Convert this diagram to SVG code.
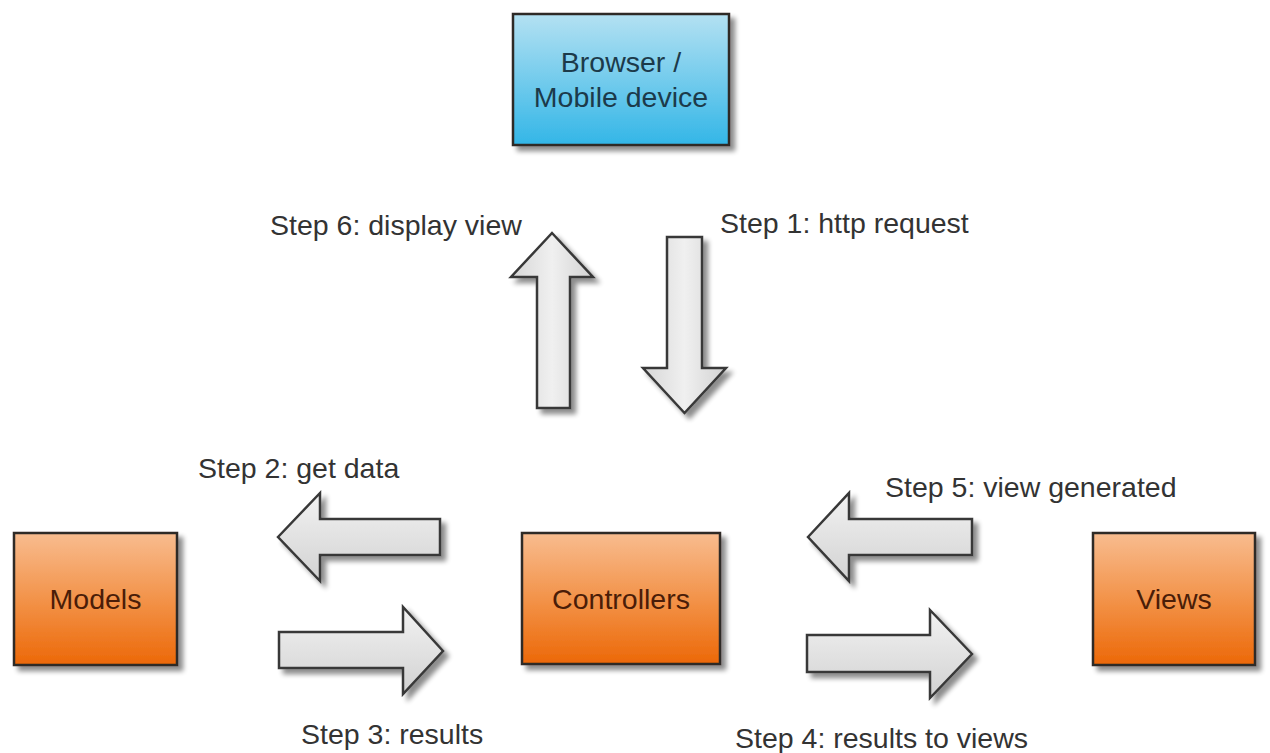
<svg xmlns="http://www.w3.org/2000/svg" width="1270" height="753" viewBox="0 0 1270 753">
  <defs>
    <linearGradient id="gOrange" x1="0" y1="0" x2="0" y2="1">
      <stop offset="0" stop-color="#f8bc8f"/>
      <stop offset="0.55" stop-color="#f28f43"/>
      <stop offset="1" stop-color="#ec6808"/>
    </linearGradient>
    <linearGradient id="gBlue" x1="0" y1="0" x2="0" y2="1">
      <stop offset="0" stop-color="#b4e1f2"/>
      <stop offset="1" stop-color="#33b6e7"/>
    </linearGradient>
    <linearGradient id="gArrowH" x1="0" y1="0" x2="0" y2="1">
      <stop offset="0" stop-color="#f2f2f2"/>
      <stop offset="1" stop-color="#d2d2d2"/>
    </linearGradient>
    <linearGradient id="gArrowV" x1="0" y1="0" x2="1" y2="0">
      <stop offset="0" stop-color="#d6d6d6"/>
      <stop offset="0.5" stop-color="#f0f0f0"/>
      <stop offset="1" stop-color="#d2d2d2"/>
    </linearGradient>
    <filter id="shadow" x="-10%" y="-10%" width="130%" height="130%">
      <feGaussianBlur in="SourceAlpha" stdDeviation="2.5"/>
      <feOffset dx="5" dy="5" result="off"/>
      <feComponentTransfer><feFuncA type="linear" slope="0.45"/></feComponentTransfer>
      <feMerge><feMergeNode/><feMergeNode in="SourceGraphic"/></feMerge>
    </filter>
  </defs>
  <style>
    .box { stroke: #2e2a28; stroke-width: 2.5; filter: url(#shadow); }
    .orange { fill: url(#gOrange); }
    .blue { fill: url(#gBlue); }
    .boxtext { font-family: "Liberation Sans", Arial, sans-serif; font-size: 28.5px; text-anchor: middle; }
    .otext { fill: #4a1d08; }
    .btext { fill: #1c3a4a; }
    .arrow { stroke: #383838; stroke-width: 2.5; stroke-linejoin: miter; filter: url(#shadow); }
    .h { fill: url(#gArrowH); }
    .v { fill: url(#gArrowV); }
    .label { font-family: "Liberation Sans", Arial, sans-serif; font-size: 28.5px; fill: #333333; }
  </style>

  <rect width="1270" height="753" fill="#ffffff"/>

  <g id="browser">
    <rect class="box blue" x="513" y="14" width="216" height="131"/>
    <text class="boxtext btext" x="621" y="72">Browser /</text>
    <text class="boxtext btext" x="621" y="107">Mobile device</text>
  </g>

  <g id="models">
    <rect class="box orange" x="14" y="533" width="163" height="132"/>
    <text class="boxtext otext" x="95.5" y="609">Models</text>
  </g>

  <g id="controllers">
    <rect class="box orange" x="522" y="533" width="198" height="131"/>
    <text class="boxtext otext" x="621" y="609">Controllers</text>
  </g>

  <g id="views">
    <rect class="box orange" x="1093" y="533" width="162" height="132"/>
    <text class="boxtext otext" x="1174" y="609">Views</text>
  </g>

  <g id="connectors">
    <!-- Step 6: up to browser -->
    <path class="arrow v" d="M552,233 L593,277 L570,277 L570,408 L537,408 L537,277 L511,277 Z"/>
    <!-- Step 1: down to controllers -->
    <path class="arrow v" d="M667,237 L702,237 L702,368 L726,368 L684.5,413 L643,368 L667,368 Z"/>
    <!-- Step 2: controllers to models -->
    <path class="arrow h" d="M278,537 L320,493 L320,519 L440,519 L440,555 L320,555 L320,581 Z"/>
    <!-- Step 3: models to controllers -->
    <path class="arrow h" d="M443,651 L403,607 L403,632 L279,632 L279,668 L403,668 L403,694 Z"/>
    <!-- Step 5: views to controllers -->
    <path class="arrow h" d="M808,537 L849,493 L849,519 L972,519 L972,555 L849,555 L849,581 Z"/>
    <!-- Step 4: controllers to views -->
    <path class="arrow h" d="M972,654 L930,610 L930,635 L807,635 L807,672 L930,672 L930,698 Z"/>
  </g>

  <g id="labels">
    <text class="label" x="270" y="235">Step 6: display view</text>
    <text class="label" x="720" y="233">Step 1: http request</text>
    <text class="label" x="198" y="478">Step 2: get data</text>
    <text class="label" x="885" y="497">Step 5: view generated</text>
    <text class="label" x="301" y="744">Step 3: results</text>
    <text class="label" x="735" y="748">Step 4: results to views</text>
  </g>
</svg>
